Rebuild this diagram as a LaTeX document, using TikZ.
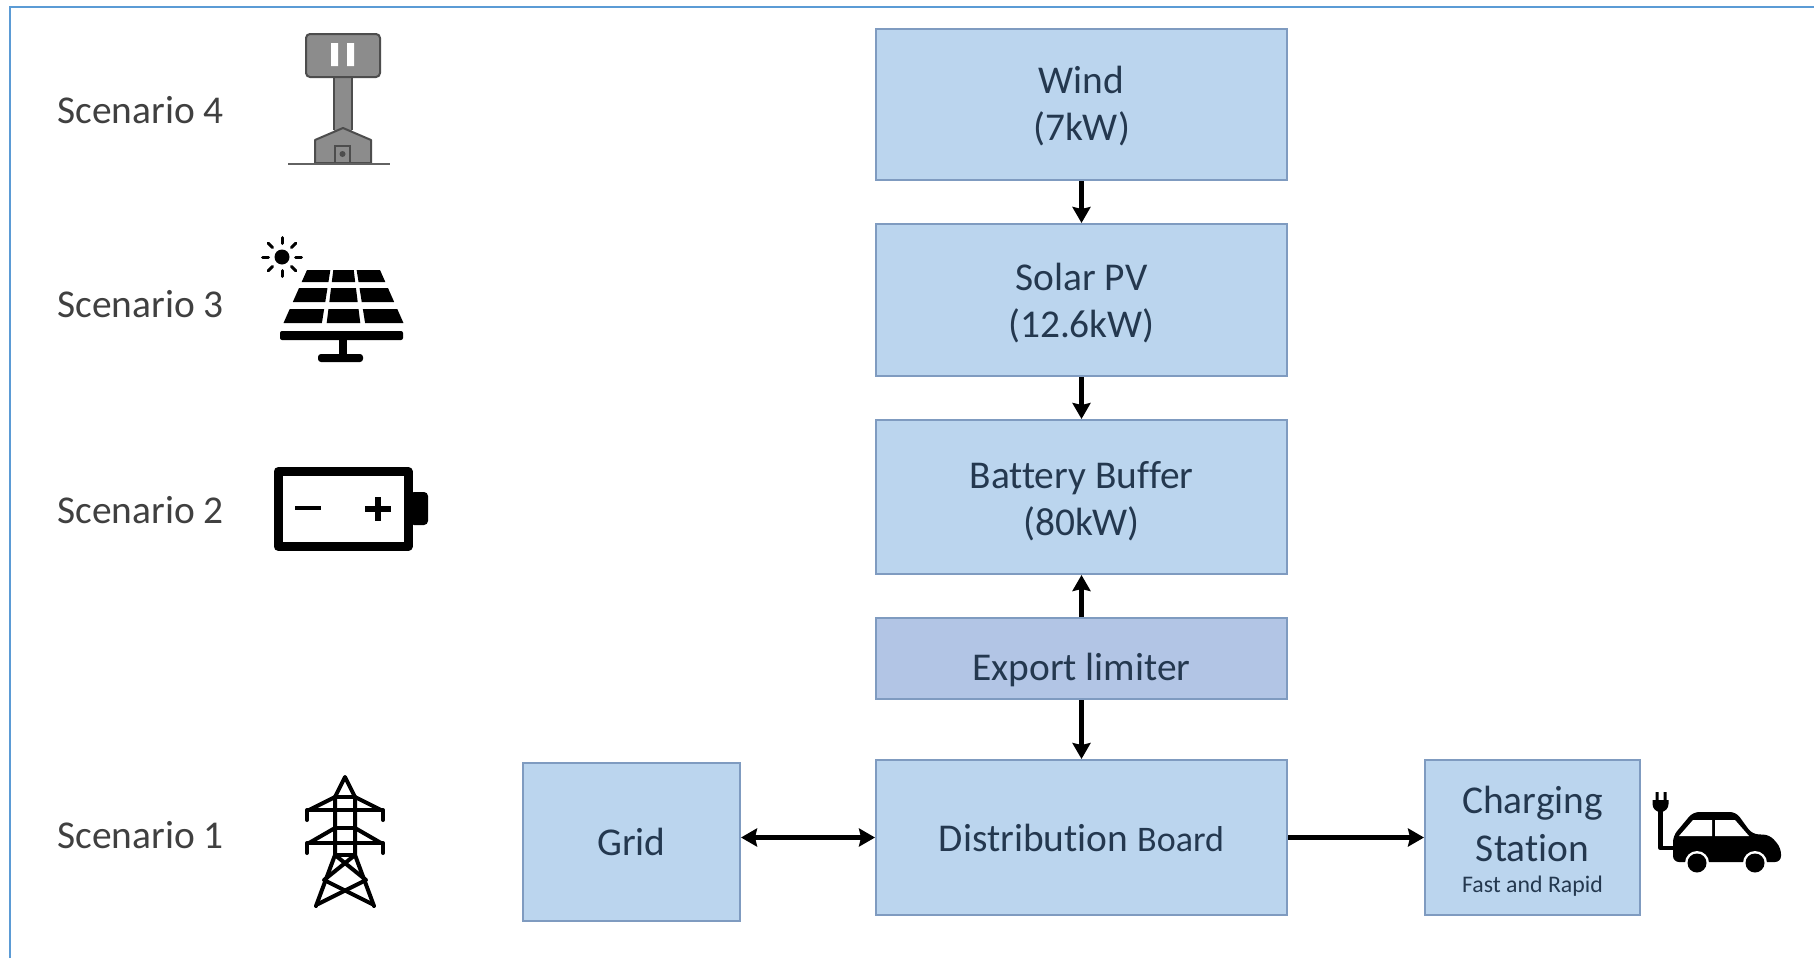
\documentclass[tikz,border=0pt]{standalone}
\usepackage{fontspec}
\setmainfont[Ligatures=NoCommon]{Carlito}
\usetikzlibrary{arrows.meta}
\definecolor{boxfill}{HTML}{BBD5EE}
\definecolor{limfill}{HTML}{B2C5E5}
\definecolor{boxline}{HTML}{7F9BC0}
\definecolor{frameblue}{HTML}{5B9BD5}
\definecolor{boxtext}{HTML}{24384F}
\definecolor{lefttext}{HTML}{404040}
\definecolor{towergray}{HTML}{8C8C8C}
\newcommand{\liftlines}[2]{\raisebox{#1}[0pt][0pt]{\begin{tabular}{@{}c@{}}#2\end{tabular}}}
\tikzset{
  flowbox/.style={draw=boxline,line width=1pt,fill=boxfill,inner sep=0pt,align=center,text=boxtext,font=\fontsize{19.7}{23.7}\selectfont},
  limbox/.style={flowbox,fill=limfill},
  scenlabel/.style={inner sep=0pt,anchor=west,text=lefttext,font=\fontsize{19.7}{22}\selectfont},
  flowarrow/.style={line width=2.4pt,-{Stealth[length=8pt,width=9pt,inset=1pt]}},
  bothway/.style={line width=2.4pt,{Stealth[length=8pt,width=9pt,inset=1pt]}-{Stealth[length=8pt,width=9pt,inset=1pt]}},
  icondark/.style={line width=2pt,black,line cap=round,line join=round}
}
\begin{document}
\begin{tikzpicture}[x=0.5pt,y=-0.5pt]
\useasboundingbox (0,0) rectangle (1814,958);
\fill[white] (0,0) rectangle (1814,958);
\draw[frameblue,line width=1pt] (10,958) -- (10,7) -- (1814,7);
% boxes
\node[flowbox,minimum width=205.5pt,minimum height=75.5pt] (wind) at (1081.5,104.5) {\liftlines{-6.7pt}{Wind\\(7kW)}};
\node[flowbox,minimum width=205.5pt,minimum height=76pt] (solar) at (1081.5,300) {\liftlines{-7.3pt}{Solar PV\\(12.6kW)}};
\node[flowbox,minimum width=205.5pt,minimum height=77pt] (batt) at (1081.5,497) {\liftlines{-7.9pt}{Battery Buffer\\(80kW)}};
\node[limbox,minimum width=205.5pt,minimum height=40.5pt] (lim) at (1081.5,658.5) {\raisebox{-11pt}[0pt][0pt]{Export limiter}};
\node[flowbox,minimum width=205.5pt,minimum height=77.5pt] (dist) at (1081.5,837.5) {Distribution {\fontsize{18}{20}\selectfont Board}};
\node[flowbox,minimum width=108.5pt,minimum height=79pt] (grid) at (631.5,842) {Grid};
\node[flowbox,minimum width=107.5pt,minimum height=77.5pt] (chg) at (1532.5,837.5) {\liftlines{-8.2pt}{Charging\\Station\\[-8pt]{\fontsize{11.9}{14}\selectfont Fast and Rapid}}};
% connectors
\draw[flowarrow] (wind) -- (solar);
\draw[flowarrow] (solar) -- (batt);
\draw[flowarrow] (lim) -- (batt);
\draw[flowarrow] (lim) -- (dist);
\coordinate (gridport) at (grid.east |- dist.west);
\draw[bothway] (gridport) -- (dist.west);
\draw[flowarrow] (dist) -- (chg);
% scenario labels
\node[scenlabel] (s4) at (57,110) {Scenario 4};
\node[scenlabel] (s3) at (57,304) {Scenario 3};
\node[scenlabel] (s2) at (57,510) {Scenario 2};
\node[scenlabel] (s1) at (57,835) {Scenario 1};
% turbine on house
\fill[towergray] (334,70) rectangle (352,135);
\draw[towergray!55!black,line width=.8pt] (334,77) -- (334,130) (352,77) -- (352,130);
\draw[fill=towergray,draw=towergray!55!black,line width=1pt,rounded corners=2pt] (306,34) rectangle (380,77);
\fill[white] (331,43) rectangle (338,66) (347,43) rectangle (354,66);
\draw[fill=towergray,draw=towergray!55!black,line width=1pt,line join=round] (315,163) -- (315,140) -- (343,128) -- (371,140) -- (371,163) -- cycle;
\draw[towergray!55!black,line width=.8pt] (335,146) rectangle (350,163);
\fill[towergray!55!black] (342.5,154) circle (1.5pt);
\draw[towergray!70!black,line width=1.4pt] (288,164) -- (390,164);
% sun
\fill[black] (282,257) circle (7.5);
\foreach \a in {0,45,...,315} \draw[black,line width=1.5pt,line cap=round] (282,257) ++(\a:13.5) -- ++(\a:6);
% solar panel
\foreach \ya/\yb in {270/282,288/302,309/323}{
  \foreach \ua/\ub in {-1/-0.36,-0.28/0.28,0.36/1}{
    \pgfmathsetmacro{\wa}{36.5+0.443*(\ya-270)}
    \pgfmathsetmacro{\wb}{36.5+0.443*(\yb-270)}
    \fill[black] ({343.5+\ua*\wa},\ya) -- ({343.5+\ub*\wa},\ya) -- ({343.5+\ub*\wb},\yb) -- ({343.5+\ua*\wb},\yb) -- cycle;
  }
}
\fill[black,rounded corners=1pt] (280,331) rectangle (403,340);
\fill[black] (339,339) rectangle (347,355);
\fill[black,rounded corners=1.5pt] (318,354) rectangle (363,362);
% battery
\draw[black,line width=4.5pt,line join=round] (278,471.5) rectangle (408,546.5);
\fill[black,rounded corners=2pt] (410,492) -- (428,492) -- (428,525) -- (410,525) -- cycle;
\draw[black,line width=2.4pt] (295,508) -- (321,508);
\draw[black,line width=2.8pt] (365,509) -- (391,509) (378,497) -- (378,521);
% pylon
\draw[icondark] (316,906) -- (335,855) -- (335,797) -- (345,777) -- (355,797) -- (355,855) -- (374,906);
\draw[icondark] (335,797) -- (355,797) (335,810) -- (355,810);
\draw[icondark] (307,820) -- (307,810) -- (383,810) -- (383,820);
\draw[icondark] (309,810) -- (335,797) (381,810) -- (355,797);
\draw[icondark] (335,828) -- (355,828);
\draw[icondark] (307,853) -- (307,843) -- (383,843) -- (383,853);
\draw[icondark] (309,843) -- (335,828) (381,843) -- (355,828);
\draw[icondark] (335,855) -- (355,855);
\draw[icondark] (335,855) -- (366,880) -- (318,904);
\draw[icondark] (355,855) -- (324,880) -- (372,904);
% car and plug
\fill[black] (1652.5,800) -- (1668.5,800) -- (1668.5,804) arc (0:180:8) -- cycle;
\fill[black] (1655.5,792) rectangle (1658.5,801) (1663.5,792) rectangle (1666.5,801);
\draw[black,line width=2.4pt,line join=round] (1660.5,810) -- (1660.5,848) -- (1678,848);
\fill[black,rounded corners=3pt] (1673,862) -- (1673,836) -- (1693,812) -- (1736,812) -- (1752,834) -- (1770,835) -- (1781,848) -- (1781,862) -- cycle;
\fill[white] (1679,836) -- (1693,820) -- (1712,820) -- (1712,836) -- cycle;
\fill[white] (1715,820) -- (1735,820) -- (1749,836) -- (1715,836) -- cycle;
\fill[white] (1697,863) circle (12) (1755,863) circle (12);
\fill[black] (1697,863) circle (9.5) (1755,863) circle (9.5);
\end{tikzpicture}
\end{document}
